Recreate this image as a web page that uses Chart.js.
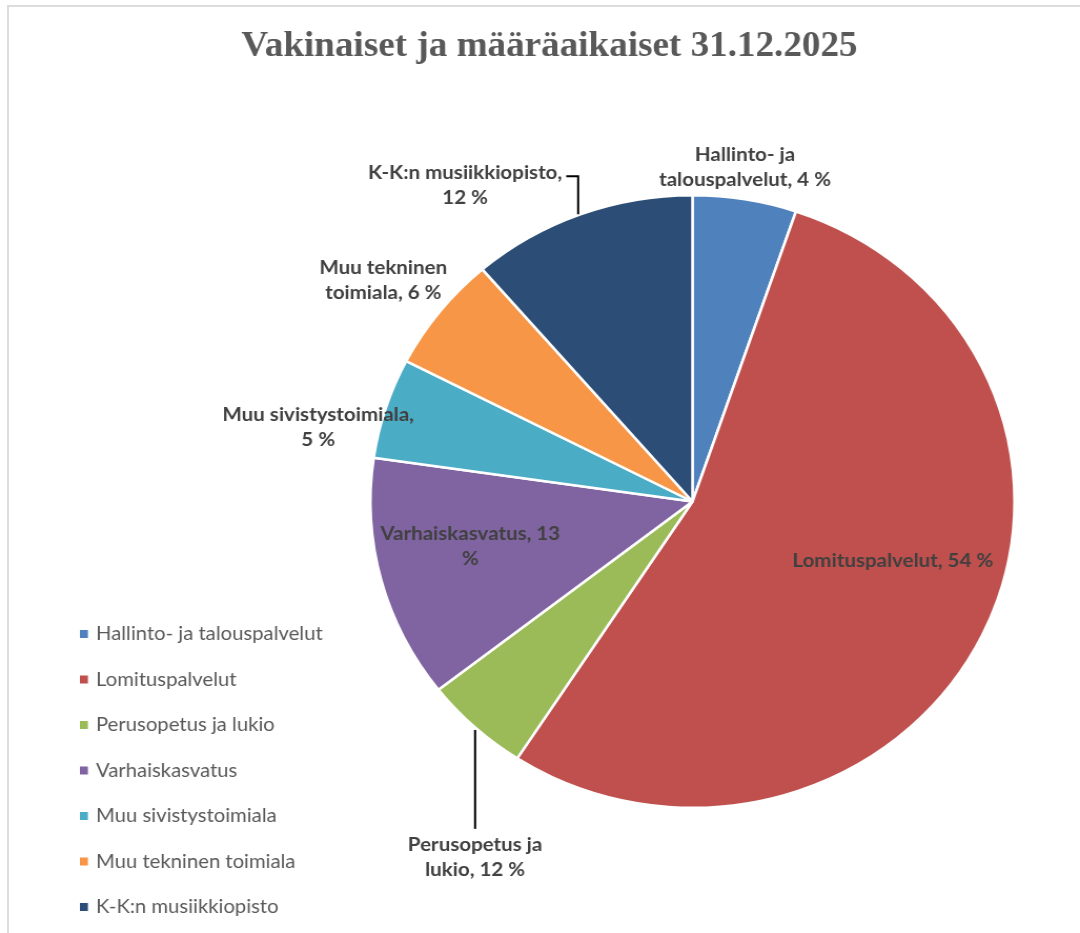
<!DOCTYPE html>
<html>
<head>
<meta charset="utf-8">
<script src="https://cdn.jsdelivr.net/npm/chart.js@4"></script>
<style>
  html, body { margin:0; padding:0; background:#fff; }
  #wrap { position:relative; width:1080px; height:933px; overflow:hidden; }
  #frame { position:absolute; left:7px; top:5px; right:-10px; bottom:-10px; border-top:2px solid #dcdcdc; border-left:2px solid #dcdcdc; pointer-events:none; }
  #c { position:absolute; left:0; top:0; width:1027px; height:933px; transform:scaleX(1.0516); transform-origin:0 0; }
</style>
</head>
<body>
<div id="wrap">
  <canvas id="c" width="1027" height="933"></canvas>
  <div id="frame"></div>
</div>
<script>
// ---- data ----
const titleText = "Vakinaiset ja määräaikaiset 31.12.2025";
const categories = [
  "Hallinto- ja talouspalvelut",
  "Lomituspalvelut",
  "Perusopetus ja lukio",
  "Varhaiskasvatus",
  "Muu sivistystoimiala",
  "Muu tekninen toimiala",
  "K-K:n musiikkiopisto"
];
const shares = [5.2, 53.9, 5.3, 12.8, 5.3, 6.1, 11.3];
const sliceLabelText = [
  ["Hallinto- ja", "talouspalvelut, 4 %"],
  ["Lomituspalvelut, 54 %"],
  ["Perusopetus ja", "lukio, 12 %"],
  ["Varhaiskasvatus, 13", "%"],
  ["Muu sivistystoimiala,", "5 %"],
  ["Muu tekninen", "toimiala, 6 %"],
  ["K-K:n musiikkiopisto,", "12 %"]
];
const sliceColors = ["#4F81BD", "#C0504D", "#9BBB59", "#8064A2", "#4BACC6", "#F79646", "#2C4D75"];

// ---- label placement (relative to pie centre, in radius units) ----
const labelPlace = [
  {fx: 0.163, fy: -1.090},
  {fx: 0.622, fy: 0.194},
  {fx: -0.675, fy: 1.161},
  {fx: -0.690, fy: 0.145},
  {fx: -1.162, fy: -0.243},
  {fx: -0.960, fy: -0.721},
  {fx: -0.706, fy: -1.034}
];
const leaderLines = [
  [[-0.392, -1.062], [-0.355, -1.062], [-0.355, -0.938]],
  [[-0.675, 0.746], [-0.675, 1.069]]
];

const titlePlugin = {
  id: 'centeredTitle',
  afterDraw(chart) {
    const ctx = chart.ctx;
    ctx.save();
    ctx.font = 'bold 35.3px "Liberation Serif", "DejaVu Serif", serif';
    ctx.fillStyle = '#595959';
    ctx.textAlign = 'center';
    ctx.textBaseline = 'middle';
    ctx.fillText(titleText, chart.width / 2 + 9, 47);
    ctx.restore();
  }
};

const sliceLabelPlugin = {
  id: 'sliceLabels',
  afterDatasetsDraw(chart) {
    const ctx = chart.ctx;
    const arc = chart.getDatasetMeta(0).data[0];
    const cx = arc.x, cy = arc.y, r = arc.outerRadius;
    ctx.save();
    ctx.strokeStyle = '#000';
    ctx.lineWidth = 2;
    leaderLines.forEach(pts => {
      ctx.beginPath();
      pts.forEach((p, k) => {
        const x = cx + p[0] * r, y = cy + p[1] * r;
        if (k === 0) ctx.moveTo(x, y); else ctx.lineTo(x, y);
      });
      ctx.stroke();
    });
    ctx.font = 'bold 19.5px Lato, "Open Sans", sans-serif';
    ctx.fillStyle = '#404040';
    ctx.textAlign = 'center';
    ctx.textBaseline = 'middle';
    const lh = 25;
    sliceLabelText.forEach((lines, i) => {
      const p = labelPlace[i];
      const x = cx + p.fx * r, y = cy + p.fy * r;
      lines.forEach((t, j) => {
        ctx.fillText(t, x, y + (j - (lines.length - 1) / 2) * lh);
      });
    });
    ctx.restore();
  }
};

const legendPlugin = {
  id: 'sideLegend',
  afterDraw(chart) {
    const ctx = chart.ctx;
    const ds = chart.data.datasets[0];
    ctx.save();
    ctx.font = '19.3px Lato, "Open Sans", sans-serif';
    ctx.textAlign = 'left';
    ctx.textBaseline = 'middle';
    chart.data.labels.forEach((lab, i) => {
      const y = 634 + i * 45.5;
      ctx.fillStyle = ds.backgroundColor[i];
      ctx.fillRect(76, y - 4, 7.6, 8);
      ctx.fillStyle = '#595959';
      ctx.fillText(lab, 91.3, y);
    });
    ctx.restore();
  }
};

new Chart(document.getElementById('c'), {
  type: 'pie',
  data: {
    labels: categories,
    datasets: [{
      data: shares,
      backgroundColor: sliceColors,
      borderColor: '#ffffff',
      borderWidth: 2.5,
      hoverOffset: 0
    }]
  },
  options: {
    responsive: false,
    animation: false,
    events: [],
    layout: { padding: { top: 194, bottom: 124, left: 351, right: 61 } },
    plugins: {
      legend: { display: false },
      tooltip: { enabled: false },
      title: { display: false }
    }
  },
  plugins: [sliceLabelPlugin, legendPlugin, titlePlugin]
});
</script>
</body>
</html>
